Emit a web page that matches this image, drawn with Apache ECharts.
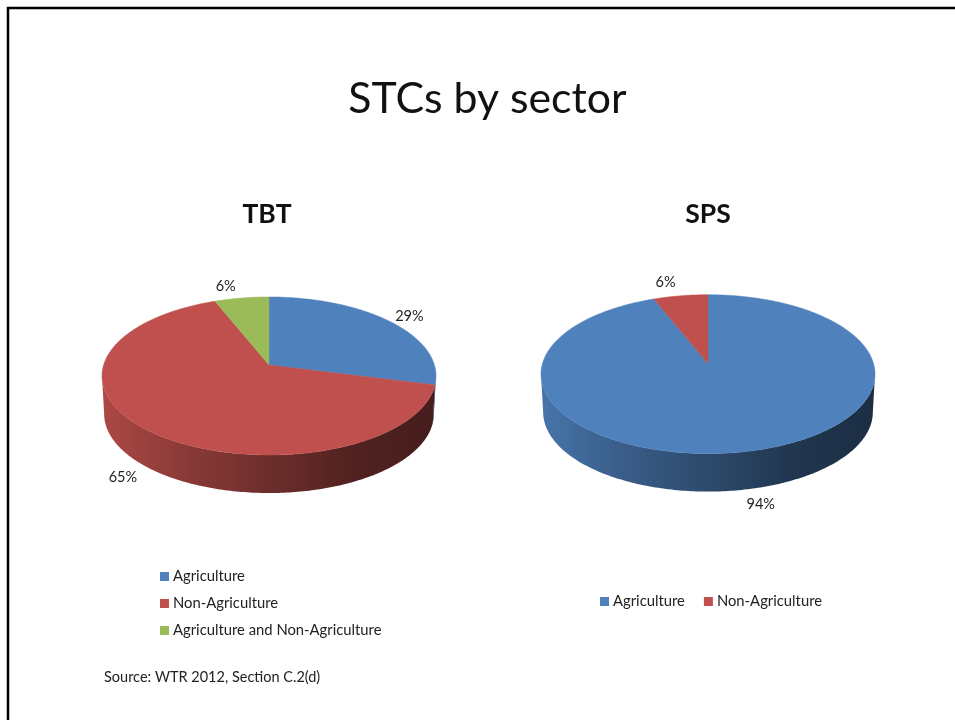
<!DOCTYPE html>
<html>
<head>
<meta charset="utf-8">
<style>html,body{margin:0;padding:0;background:#fff}#c{width:955px;height:720px}</style>
<script src="https://cdn.jsdelivr.net/npm/echarts@6/dist/echarts.min.js"></script>
</head>
<body>
<div id="c"></div>
<script>
// ---- data ----
const tbtCategories = ['Agriculture', 'Non-Agriculture', 'Agriculture and Non-Agriculture'];
const tbtValues = [29, 65, 6];
const spsCategories = ['Agriculture', 'Non-Agriculture'];
const spsValues = [94, 6];

// ---- style / layout ----
const FONT = 'Lato, "Open Sans", sans-serif';
const colors = {'Agriculture': '#4f81bd', 'Non-Agriculture': '#c0504d', 'Agriculture and Non-Agriculture': '#9bbb59'};
const tbtPie = {cx: 269, apexY: 365, a: 165.4, b: 77.5, k: 0.139, depth: 38,
  labelOffsets: [[20, -5], [-24, 47], [-16, -12]]};
const spsPie = {cx: 708, apexY: 363.5, a: 165.5, b: 78, k: 0.134, depth: 38,
  labelOffsets: [[17, 53], [-15, -13]]};
const BOTTOM_SCALE = 0.987;

function project(p, theta) {
  const w = 1 + p.k * Math.cos(theta);
  return [p.cx + p.a * Math.sin(theta) / w, p.apexY - p.b * Math.cos(theta) / w];
}
function arc(p, t0, t1) {
  const n = Math.max(2, Math.ceil(Math.abs(t1 - t0) / 0.015));
  const pts = [];
  for (let i = 0; i <= n; i++) pts.push(project(p, t0 + (t1 - t0) * i / n));
  return pts;
}
function shade(hex, f) {
  const n = parseInt(hex.slice(1), 16);
  const c = [n >> 16, (n >> 8) & 255, n & 255].map(v => Math.round(v * f));
  return 'rgb(' + c.join(',') + ')';
}
function sliceSeries(p, name, start, end, value, labelOffset) {
  const color = colors[name];
  return {
    type: 'custom',
    name: name,
    coordinateSystem: 'none',
    itemStyle: {color: color},
    silent: true,
    data: [[start, end, value]],
    renderItem: function (params, api) {
      const t0 = api.value(0) / 100 * 2 * Math.PI;
      const t1 = api.value(1) / 100 * 2 * Math.PI;
      const children = [];
      // visible wall: only the part of the rim that faces the viewer
      const frontA = Math.acos(-p.k), frontB = 2 * Math.PI - frontA;
      const s0 = Math.max(t0, frontA), s1 = Math.min(t1, frontB);
      if (s1 > s0) {
        const rim = arc(p, s0, s1);
        const low = rim.slice().reverse().map(q => [p.cx + (q[0] - p.cx) * BOTTOM_SCALE, q[1] + p.depth]);
        const halfW = p.a / Math.sqrt(1 - p.k * p.k);
        children.push({
          type: 'polygon',
          shape: {points: rim.concat(low)},
          style: {
            fill: new echarts.graphic.LinearGradient(p.cx - halfW, 0, p.cx + halfW, 0, [
              {offset: 0, color: shade(color, 0.9)},
              {offset: 0.25, color: shade(color, 0.72)},
              {offset: 0.5, color: shade(color, 0.57)},
              {offset: 0.75, color: shade(color, 0.42)},
              {offset: 1, color: shade(color, 0.36)}
            ], true)
          }
        });
      }
      // top surface
      children.push({
        type: 'polygon',
        shape: {points: [[p.cx, p.apexY]].concat(arc(p, t0, t1))},
        style: {fill: color, stroke: color, lineWidth: 0.5}
      });
      // value label
      const m = project(p, (t0 + t1) / 2);
      children.push({
        type: 'text',
        style: {
          text: api.value(2) + '%',
          x: m[0] + labelOffset[0], y: m[1] + labelOffset[1],
          align: 'center', verticalAlign: 'middle',
          font: '14.5px ' + FONT, fill: '#222'
        }
      });
      return {type: 'group', children: children};
    }
  };
}
function pieSeries(p, cats, vals) {
  let acc = 0;
  return cats.map((c, i) => {
    const s = sliceSeries(p, c, acc, acc + vals[i], vals[i], p.labelOffsets[i]);
    acc += vals[i];
    return s;
  });
}

const chart = echarts.init(document.getElementById('c'), null, {renderer: 'canvas'});
chart.setOption({
  animation: false,
  backgroundColor: '#fff',
  title: [
    {text: 'STCs by sector', left: 487.5, top: 99, padding: 0, textAlign: 'center', textVerticalAlign: 'middle',
     textStyle: {fontFamily: FONT, fontSize: 42.8, fontWeight: 'normal', color: '#111'}},
    {text: 'TBT', left: 267, top: 214, padding: 0, textAlign: 'center', textVerticalAlign: 'middle',
     textStyle: {fontFamily: FONT, fontSize: 26.5, fontWeight: 'bold', color: '#111'}},
    {text: 'SPS', left: 708, top: 214, padding: 0, textAlign: 'center', textVerticalAlign: 'middle',
     textStyle: {fontFamily: FONT, fontSize: 26.5, fontWeight: 'bold', color: '#111'}},
    {text: 'Source: WTR 2012, Section C.2(d)', left: 104, top: 677, padding: 0, textVerticalAlign: 'middle',
     textStyle: {fontFamily: FONT, fontSize: 14.5, fontWeight: 'normal', color: '#222'}}
  ],
  legend: [
    {data: tbtCategories, orient: 'vertical', left: 160, top: 569, itemWidth: 9, itemHeight: 9,
     itemGap: 12, padding: 0, selectedMode: false, icon: 'rect',
     textStyle: {fontFamily: FONT, fontSize: 14.8, color: '#222', padding: [0, 0, 0, -1]}},
    {data: spsCategories, orient: 'horizontal', left: 600, top: 594, itemWidth: 9, itemHeight: 9,
     itemGap: 19, padding: 0, selectedMode: false, icon: 'rect',
     textStyle: {fontFamily: FONT, fontSize: 14.8, color: '#222', padding: [0, 0, 0, -1]}}
  ],
  graphic: [{
    type: 'polyline', silent: true,
    shape: {points: [[8, 720], [8, 8], [955, 8]]},
    style: {stroke: '#000', lineWidth: 2.5, fill: null}
  }],
  series: pieSeries(tbtPie, tbtCategories, tbtValues).concat(pieSeries(spsPie, spsCategories, spsValues))
});
</script>
</body>
</html>
